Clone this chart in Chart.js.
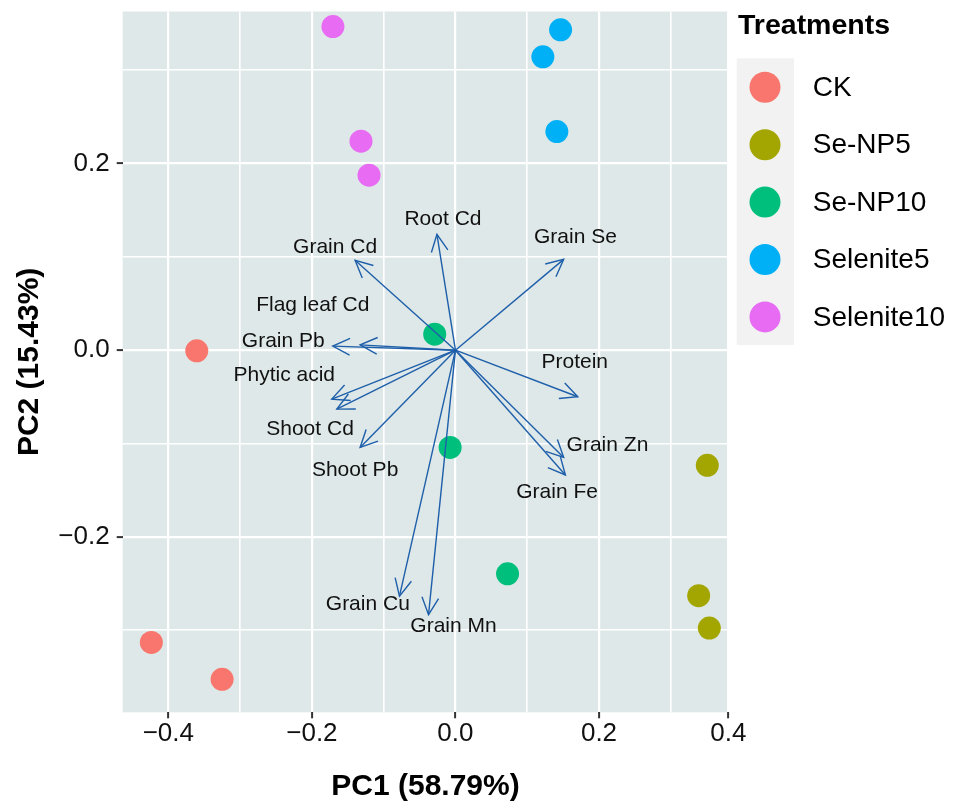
<!DOCTYPE html>
<html>
<head>
<meta charset="utf-8">
<script src="https://cdn.jsdelivr.net/npm/chart.js@4.4.1/dist/chart.umd.min.js"></script>
<style>
html,body{margin:0;padding:0;background:#ffffff;}
#wrap{width:959px;height:805px;position:relative;}
</style>
</head>
<body>
<div id="wrap"><canvas id="c" width="959" height="805"></canvas></div>
<script>
// ---------------- DATA ----------------
const treatments = ['CK', 'Se-NP5', 'Se-NP10', 'Selenite5', 'Selenite10'];
const ckPC1 = [-0.3604, -0.4237, -0.3251];
const ckPC2 = [-0.0007, -0.3131, -0.3526];
const seNP5PC1 = [0.3635, 0.3485, 0.3670];
const seNP5PC2 = [-0.1234, -0.2631, -0.2978];
const seNP10PC1 = [-0.0289, -0.0074, 0.0726];
const seNP10PC2 = [0.0171, -0.1042, -0.2396];
const selenite5PC1 = [0.1465, 0.1218, 0.1413];
const selenite5PC2 = [0.3433, 0.3144, 0.2342];
const selenite10PC1 = [-0.1707, -0.1316, -0.1204];
const selenite10PC2 = [0.3468, 0.2239, 0.1875];

const variables = ['Root Cd', 'Grain Cd', 'Grain Se', 'Flag leaf Cd', 'Grain Pb', 'Phytic acid',
  'Shoot Cd', 'Shoot Pb', 'Protein', 'Grain Zn', 'Grain Fe', 'Grain Cu', 'Grain Mn'];
const varPC1 = [-0.0258, -0.1398, 0.1508, -0.1328, -0.1709, -0.1723, -0.1653, -0.1328, 0.1704, 0.1508, 0.1532, -0.0780, -0.0375];
const varPC2 = [0.1241, 0.0963, 0.0973, 0.0057, 0.0043, -0.0524, -0.0631, -0.1042, -0.0499, -0.1149, -0.1337, -0.2635, -0.2834];

const xMajorTicks = [-0.4, -0.2, 0.0, 0.2, 0.4];
const xTickLabels = ['\u22120.4', '\u22120.2', '0.0', '0.2', '0.4'];
const yMajorTicks = [-0.2, 0.0, 0.2];
const yTickLabels = ['\u22120.2', '0.0', '0.2'];
const xGridValues = [-0.4, -0.3, -0.2, -0.1, 0.0, 0.1, 0.2, 0.3, 0.4];
const yGridValues = [-0.3, -0.2, -0.1, 0.0, 0.1, 0.2, 0.3];

const xTitle = 'PC1 (58.79%)';
const yTitle = 'PC2 (15.43%)';
const legendTitle = 'Treatments';

// ---------------- LAYOUT / STYLE ----------------
const seriesPC1 = [ckPC1, seNP5PC1, seNP10PC1, selenite5PC1, selenite10PC1];
const seriesPC2 = [ckPC2, seNP5PC2, seNP10PC2, selenite5PC2, selenite10PC2];
const colors = ['#F8766D', '#A3A500', '#00BF7D', '#00B0F6', '#E76BF3'];
// label anchor positions (data units) for variable names, as placed in the figure
const varLabelX = [-0.0174, -0.1677, 0.1672, -0.1988, -0.2399, -0.2385, -0.2026, -0.1398, 0.1662, 0.2118, 0.1416, -0.1221, -0.0027];
const varLabelY = [0.1407, 0.1105, 0.1212, 0.0481, 0.0092, -0.0267, -0.0849, -0.1283, -0.0133, -0.1016, -0.1523, -0.2727, -0.2956];

const FONT = '"Liberation Sans", Arial, Helvetica, sans-serif';
const PANEL = '#DFE8E8';
const ARROW = '#1E5FAA';
const X_MIN = -0.4636, X_MAX = 0.4, X_BREAK = 0.3, X_BREAK_FRAC = 0.905;
const Y_MIN = -0.388, Y_MAX = 0.3629;
const AREA = {left: 122.7, right: 728.3, top: 10, bottom: 712.3};

// Linear scale whose last interval (0.3 - 0.4) is compressed, as in the figure
class BrokenLinearScale extends Chart.LinearScale {
  getPixelForValue(value) {
    if (value === null || value === undefined || isNaN(value)) return NaN;
    const lo = this.min, hi = this.max;
    let d;
    if (value <= X_BREAK) d = (value - lo) / (X_BREAK - lo) * X_BREAK_FRAC;
    else d = X_BREAK_FRAC + (value - X_BREAK) / (hi - X_BREAK) * (1 - X_BREAK_FRAC);
    return this.getPixelForDecimal(d);
  }
  getValueForPixel(pixel) {
    const d = this.getDecimalForPixel(pixel);
    const lo = this.min, hi = this.max;
    if (d <= X_BREAK_FRAC) return lo + d / X_BREAK_FRAC * (X_BREAK - lo);
    return X_BREAK + (d - X_BREAK_FRAC) / (1 - X_BREAK_FRAC) * (hi - X_BREAK);
  }
}
BrokenLinearScale.id = 'brokenLinear';
BrokenLinearScale.defaults = Chart.LinearScale.defaults;
Chart.register(BrokenLinearScale);

const near = (a, b) => Math.abs(a - b) < 1e-9;
const isMajor = (arr, v) => arr.some(t => near(t, v));

const datasets = [];
treatments.forEach((t, i) => {
  datasets.push({
    type: 'scatter',
    label: t,
    data: seriesPC1[i].map((x, j) => ({x: x, y: seriesPC2[i][j]})),
    backgroundColor: colors[i],
    borderColor: colors[i],
    borderWidth: 0,
    pointRadius: 11.5,
    pointHoverRadius: 11.5,
    order: 2
  });
});
variables.forEach((v, i) => {
  datasets.push({
    type: 'line',
    label: v,
    data: [{x: 0, y: 0}, {x: varPC1[i], y: varPC2[i]}],
    borderColor: ARROW,
    borderWidth: 1.4,
    pointRadius: 0,
    fill: false,
    tension: 0,
    order: 1
  });
});

const panelBg = {
  id: 'panelBg',
  beforeDraw(chart) {
    const {ctx, chartArea: a} = chart;
    ctx.save();
    ctx.fillStyle = PANEL;
    ctx.fillRect(a.left, a.top, a.right - a.left, a.bottom - a.top);
    ctx.restore();
  }
};

const arrowsAndLabels = {
  id: 'arrowsAndLabels',
  afterDatasetsDraw(chart) {
    const {ctx, scales: {x, y}} = chart;
    ctx.save();
    const ox = x.getPixelForValue(0), oy = y.getPixelForValue(0);
    ctx.strokeStyle = ARROW;
    ctx.lineWidth = 1.4;
    const len = 19, ang = 26 * Math.PI / 180;
    variables.forEach((v, i) => {
      const tx = x.getPixelForValue(varPC1[i]), ty = y.getPixelForValue(varPC2[i]);
      const back = Math.atan2(oy - ty, ox - tx);
      ctx.beginPath();
      ctx.moveTo(tx + len * Math.cos(back + ang), ty + len * Math.sin(back + ang));
      ctx.lineTo(tx, ty);
      ctx.lineTo(tx + len * Math.cos(back - ang), ty + len * Math.sin(back - ang));
      ctx.stroke();
    });
    ctx.fillStyle = '#111111';
    ctx.font = '21px ' + FONT;
    ctx.textAlign = 'center';
    ctx.textBaseline = 'middle';
    variables.forEach((v, i) => {
      ctx.fillText(v, x.getPixelForValue(varLabelX[i]), y.getPixelForValue(varLabelY[i]));
    });
    ctx.restore();
  }
};

const legendPlugin = {
  id: 'customLegend',
  afterDraw(chart) {
    const ctx = chart.ctx;
    ctx.save();
    ctx.fillStyle = '#000000';
    ctx.font = 'bold 28.5px ' + FONT;
    ctx.textAlign = 'left';
    ctx.textBaseline = 'middle';
    ctx.fillText(legendTitle, 738, 26);
    ctx.fillStyle = '#F2F2F2';
    ctx.fillRect(736.7, 58.3, 57.3, 286.7);
    treatments.forEach((t, i) => {
      const cy = 87.3 + i * 57.4;
      ctx.beginPath();
      ctx.arc(765, cy, 15.5, 0, Math.PI * 2);
      ctx.fillStyle = colors[i];
      ctx.fill();
      ctx.fillStyle = '#000000';
      ctx.font = '28px ' + FONT;
      ctx.fillText(t, 812.7, cy + 1);
    });
    ctx.restore();
  }
};

new Chart(document.getElementById('c'), {
  type: 'scatter',
  data: {datasets: datasets},
  options: {
    responsive: false,
    animation: false,
    devicePixelRatio: 1,
    layout: {padding: {left: 0, top: AREA.top, right: 959 - AREA.right, bottom: 0}},
    plugins: {legend: {display: false}, tooltip: {enabled: false}},
    events: [],
    scales: {
      x: {
        type: 'brokenLinear',
        position: 'bottom',
        min: X_MIN,
        max: X_MAX,
        bounds: 'data',
        afterBuildTicks: (s) => { s.ticks = xGridValues.map(v => ({value: v})); },
        afterFit: (s) => { s.height = 805 - AREA.bottom; s.paddingLeft = 0; s.paddingRight = 0; s.paddingTop = 0; s.paddingBottom = 0; },
        border: {display: false},
        grid: {
          color: '#FFFFFF',
          lineWidth: (c) => (c.tick && isMajor(xMajorTicks, c.tick.value)) ? 2.2 : 1.6,
          drawTicks: true,
          tickLength: 6,
          tickWidth: 2,
          tickColor: (c) => (c.tick && isMajor(xMajorTicks, c.tick.value)) ? '#333333' : 'rgba(0,0,0,0)'
        },
        ticks: {
          autoSkip: false,
          maxRotation: 0,
          minRotation: 0,
          padding: 0,
          color: '#111111',
          font: {family: FONT, size: 26},
          callback: (v) => { const k = xMajorTicks.findIndex(t => near(t, v)); return k >= 0 ? xTickLabels[k] : ''; }
        },
        title: {
          display: true,
          text: xTitle,
          color: '#000000',
          font: {family: FONT, size: 30, weight: 'bold'},
          padding: {top: 0, bottom: 0}
        }
      },
      y: {
        type: 'linear',
        position: 'left',
        min: Y_MIN,
        max: Y_MAX,
        bounds: 'data',
        afterBuildTicks: (s) => { s.ticks = yGridValues.map(v => ({value: v})); },
        afterFit: (s) => { s.width = AREA.left; s.paddingLeft = 0; s.paddingRight = 0; s.paddingTop = 0; s.paddingBottom = 0; },
        border: {display: false},
        grid: {
          color: '#FFFFFF',
          lineWidth: (c) => (c.tick && isMajor(yMajorTicks, c.tick.value)) ? 2.2 : 1.6,
          drawTicks: true,
          tickLength: 6,
          tickWidth: 2,
          tickColor: (c) => (c.tick && isMajor(yMajorTicks, c.tick.value)) ? '#333333' : 'rgba(0,0,0,0)'
        },
        ticks: {
          autoSkip: false,
          padding: 7,
          color: '#111111',
          font: {family: FONT, size: 26},
          callback: (v) => { const k = yMajorTicks.findIndex(t => near(t, v)); return k >= 0 ? yTickLabels[k] : ''; }
        },
        title: {
          display: true,
          text: yTitle,
          color: '#000000',
          font: {family: FONT, size: 30, weight: 'bold'},
          padding: {top: 12, bottom: 0}
        }
      }
    }
  },
  plugins: [panelBg, arrowsAndLabels, legendPlugin]
});
</script>
</body>
</html>
